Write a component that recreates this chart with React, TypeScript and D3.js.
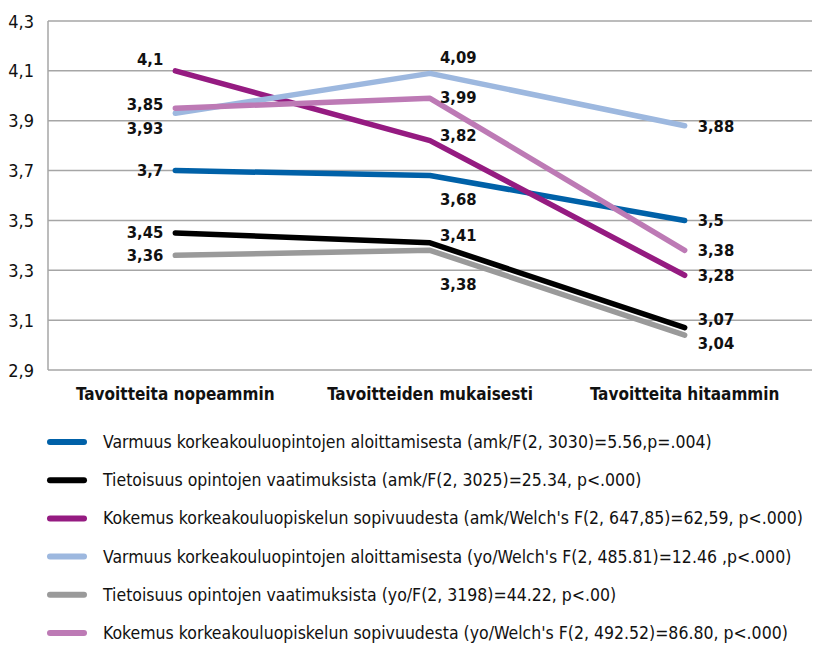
import React from "react";
import * as d3 from "d3";

const categories = ["Tavoitteita nopeammin", "Tavoitteiden mukaisesti", "Tavoitteita hitaammin"];
const yTicks = [2.9, 3.1, 3.3, 3.5, 3.7, 3.9, 4.1, 4.3];

const seriesNames = [
  "Varmuus korkeakouluopintojen aloittamisesta (amk/F(2, 3030)=5.56,p=.004)",
  "Tietoisuus opintojen vaatimuksista (amk/F(2, 3025)=25.34, p<.000)",
  "Kokemus korkeakouluopiskelun sopivuudesta (amk/Welch's F(2, 647,85)=62,59, p<.000)",
  "Varmuus korkeakouluopintojen aloittamisesta (yo/Welch's F(2, 485.81)=12.46 ,p<.000)",
  "Tietoisuus opintojen vaatimuksista (yo/F(2, 3198)=44.22, p<.00)",
  "Kokemus korkeakouluopiskelun sopivuudesta (yo/Welch's F(2, 492.52)=86.80, p<.000)",
];
const varmuusAmk = [3.7, 3.68, 3.5];
const tietoisuusAmk = [3.45, 3.41, 3.07];
const kokemusAmk = [4.1, 3.82, 3.28];
const varmuusYo = [3.93, 4.09, 3.88];
const tietoisuusYo = [3.36, 3.38, 3.04];
const kokemusYo = [3.95, 3.99, 3.38];
// labels as printed in the source chart (first pink label reads 3,85)
const kokemusYoLabels = ["3,85", "3,99", "3,38"];

const seriesValues = [varmuusAmk, tietoisuusAmk, kokemusAmk, varmuusYo, tietoisuusYo, kokemusYo];
const colors = ["#0061a8", "#000000", "#951b81", "#9db8df", "#9a9a9a", "#bd7ab5"];

// label offsets [dx, dy, anchor] per series per point (layout only)
const labelLayout: [number, number, string][][] = [
  [[-12, 0, "end"], [10, 24, "start"], [13, 0, "start"]],
  [[-12, 0, "end"], [10, -7, "start"], [13, -8, "start"]],
  [[-12, -11, "end"], [10, -5, "start"], [13, 0, "start"]],
  [[-12, 15, "end"], [10, -16, "start"], [13, 1, "start"]],
  [[-12, 0, "end"], [10, 34, "start"], [13, 8, "start"]],
  [[-12, -4, "end"], [10, -1, "start"], [13, 0, "start"]],
];

const fmt = (v: number) => String(v).replace(".", ",");
const FONT = "'Liberation Sans Narrow', 'DejaVu Sans Condensed', 'Roboto Condensed', sans-serif";

export default function App() {
  const W = 814, H = 646;
  const left = 48, right = 812, top = 21, bottom = 370;
  const y = d3.scaleLinear().domain([2.9, 4.3]).range([bottom, top]);
  const x = d3.scaleBand().domain(categories).range([left, right]);
  const cx = (c: string) => (x(c) ?? 0) + x.bandwidth() / 2;
  const line = d3.line<number>().x((_, i) => cx(categories[i])).y((v) => y(v));

  const legendTop = 442, legendStep = 38.2;

  return (
    <svg width={W} height={H} style={{ position: "absolute", left: 0, top: 0, background: "#fff" }} fontFamily={FONT}>
      {yTicks.map((t) => (
        <g key={t}>
          <line x1={left} x2={right} y1={y(t)} y2={y(t)} stroke="#a6a6a6" strokeWidth={1.5} />
          <text x={34} y={y(t)} textAnchor="end" dominantBaseline="central" fontSize={18} fill="#111">{fmt(t)}</text>
        </g>
      ))}
      <line x1={left} x2={left} y1={top} y2={bottom} stroke="#a6a6a6" strokeWidth={1.5} />
      {categories.map((c) => (
        <text key={c} x={cx(c)} y={394} textAnchor="middle" dominantBaseline="central" fontSize={17} fontWeight="bold" fill="#111">{c}</text>
      ))}
      {seriesValues.map((vals, si) => (
        <path key={si} d={line(vals) ?? ""} fill="none" stroke={colors[si]} strokeWidth={5.5} strokeLinecap="round" strokeLinejoin="round" />
      ))}
      {seriesValues.map((vals, si) =>
        vals.map((v, i) => {
          const [dx, dy, anchor] = labelLayout[si][i];
          const txt = si === 5 ? kokemusYoLabels[i] : fmt(v);
          return (
            <text key={`${si}-${i}`} x={cx(categories[i]) + dx} y={y(v) + dy} textAnchor={anchor as any} dominantBaseline="central" fontSize={16.5} fontWeight="bold" fill="#111">{txt}</text>
          );
        })
      )}
      {seriesNames.map((n, i) => (
        <g key={n} transform={`translate(0,${legendTop + i * legendStep})`}>
          <line x1={50} x2={84} y1={0} y2={0} stroke={colors[i]} strokeWidth={6} strokeLinecap="round" />
          <text x={103} y={0} dominantBaseline="central" fontSize={17.5} fill="#111">{n}</text>
        </g>
      ))}
    </svg>
  );
}
